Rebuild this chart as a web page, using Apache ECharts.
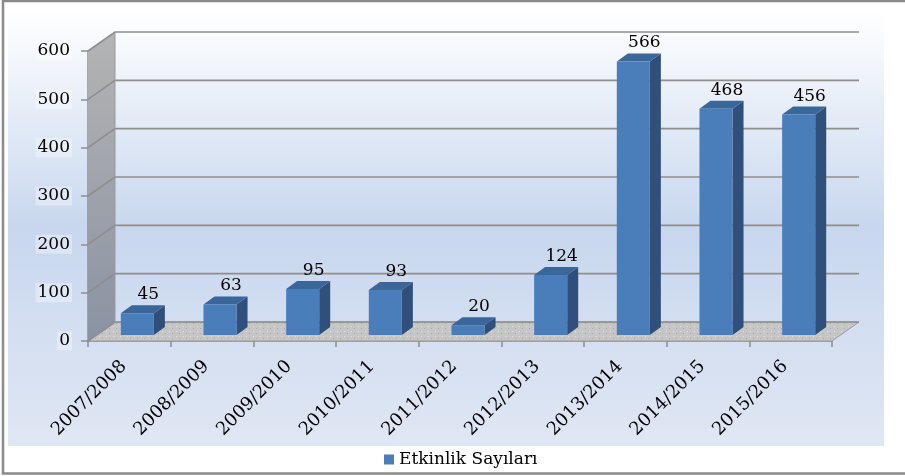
<!DOCTYPE html>
<html>
<head>
<meta charset="utf-8">
<script src="https://cdn.jsdelivr.net/npm/echarts@6/dist/echarts.min.js"></script>
<style>
  html, body { margin: 0; padding: 0; background: #fff; }
  #main { width: 905px; height: 476px; }
</style>
</head>
<body>
<div id="main"></div>
<script>
var seasons = ['2007/2008', '2008/2009', '2009/2010', '2010/2011', '2011/2012',
  '2012/2013', '2013/2014', '2014/2015', '2015/2016'];
var counts = [45, 63, 95, 93, 20, 124, 566, 468, 456];
var yTicks = [0, 100, 200, 300, 400, 500, 600];
var seriesName = 'Etkinlik Sayıları';

// depth of the fake 3d box, in px
var DX = 27, DY = -19;
var FONT = 'DejaVu Serif';

var chart = echarts.init(document.getElementById('main'));

// dotted floor pattern
var pat = document.createElement('canvas');
pat.width = 7; pat.height = 5;
var pctx = pat.getContext('2d');
pctx.fillStyle = '#c6c6c6';
pctx.fillRect(0, 0, 7, 5);
pctx.fillStyle = '#e2e2e2';
pctx.fillRect(1, 1, 1, 1);
pctx.fillStyle = '#a9a9a9';
pctx.fillRect(4, 3, 1, 1);

function renderWalls(params, api) {
  var cs = params.coordSys;
  var x = cs.x, xR = cs.x + cs.width;
  var yB = api.coord([0, yTicks[0]])[1];
  var yT = api.coord([0, yTicks[yTicks.length - 1]])[1];
  var children = [];
  children.push({
    type: 'polygon',
    shape: { points: [[x, yT], [x + DX, yT + DY], [x + DX, yB + DY], [x, yB]] },
    style: {
      fill: new echarts.graphic.LinearGradient(0, 0, 0, 1, [
        { offset: 0, color: '#b4b4b4' },
        { offset: 1, color: '#8a92a2' }
      ]),
      stroke: null
    }
  });
  children.push({
    type: 'polygon',
    shape: { points: [[x, yB], [x + DX, yB + DY], [xR + DX, yB + DY], [xR, yB]] },
    style: { fill: { image: pat, repeat: 'repeat' }, stroke: '#9a9a9a', lineWidth: 1 }
  });
  for (var i = 0; i < yTicks.length; i++) {
    var y = api.coord([0, yTicks[i]])[1];
    children.push({
      type: 'polyline',
      shape: { points: [[x, y], [x + DX, y + DY], [xR + DX, y + DY]] },
      style: { stroke: '#8e8e8e', lineWidth: 1.6, fill: null }
    });
  }
  children.push({
    type: 'line',
    shape: { x1: x + DX, y1: yT + DY, x2: x + DX, y2: yB + DY },
    style: { stroke: '#9a9a9a', lineWidth: 1 }
  });
  return { type: 'group', children: children };
}

function renderBar(params, api) {
  var i = api.value(0), v = api.value(1);
  var top = api.coord([i, v]);
  var base = api.coord([i, 0]);
  var band = api.size([1, 0])[0];
  var bw = band * 0.4;
  var sx = 8, sy = -6, ddx = 11, ddy = -8;
  var x0 = top[0] - bw / 2 + sx, x1 = x0 + bw;
  var yt = top[1] + sy, yb = base[1] + sy;
  return {
    type: 'group',
    children: [
      {
        type: 'polygon',
        shape: { points: [[x1, yt], [x1 + ddx, yt + ddy], [x1 + ddx, yb + ddy], [x1, yb]] },
        style: { fill: '#30507b' }
      },
      {
        type: 'polygon',
        shape: { points: [[x0, yt], [x0 + ddx, yt + ddy], [x1 + ddx, yt + ddy], [x1, yt]] },
        style: { fill: '#3b6699' }
      },
      {
        type: 'rect',
        shape: { x: x0, y: yt, width: bw, height: yb - yt },
        style: { fill: '#4a7ebb' }
      },
      {
        type: 'text',
        x: x0 + bw / 2 + ddx,
        y: yt + ddy - 2,
        style: {
          text: String(v), fill: '#000', font: '17px "' + FONT + '"',
          align: 'center', verticalAlign: 'bottom'
        }
      }
    ]
  };
}

var option = {
  animation: false,
  backgroundColor: '#ffffff',
  graphic: [
    {
      type: 'rect', z: -10,
      shape: { x: 8, y: 10, width: 876, height: 436 },
      style: {
        fill: new echarts.graphic.LinearGradient(0, 0, 0, 1, [
          { offset: 0, color: '#ffffff' },
          { offset: 0.5, color: '#c8d7ee' },
          { offset: 1, color: '#e0e7f4' }
        ])
      }
    },
    {
      type: 'rect', z: 100,
      shape: { x: 3, y: 1, width: 920, height: 472.5 },
      style: { fill: null, stroke: '#8a8a8a', lineWidth: 2.5 }
    }
  ],
  legend: {
    data: [seriesName],
    left: 384,
    top: 451,
    padding: 0,
    icon: 'rect',
    itemWidth: 10,
    itemHeight: 10,
    itemGap: 6,
    textStyle: { fontFamily: FONT, fontSize: 17, color: '#000' }
  },
  grid: { left: 88, right: 73, top: 51, bottom: 135 },
  xAxis: {
    type: 'category',
    data: seasons,
    axisLine: { lineStyle: { color: '#8e8e8e', width: 1.5 } },
    axisTick: { show: true, length: 6, lineStyle: { color: '#8e8e8e', width: 1.5 } },
    axisLabel: {
      interval: 0, rotate: 45, margin: 17, padding: [0, 8, 0, 0],
      fontFamily: FONT, fontSize: 18, color: '#000'
    }
  },
  yAxis: {
    type: 'value',
    min: 0, max: 600, interval: 100,
    axisLine: { show: true, lineStyle: { color: '#8e8e8e', width: 1.5 } },
    axisTick: { show: true, length: 7, lineStyle: { color: '#8e8e8e', width: 1.5 } },
    splitLine: { show: false },
    axisLabel: {
      margin: 16, fontFamily: FONT, fontSize: 17, color: '#000',
      backgroundColor: 'rgba(255,255,255,0.35)', padding: [1, 2]
    }
  },
  series: [
    {
      name: 'walls',
      type: 'custom',
      z: 1,
      silent: true,
      renderItem: renderWalls,
      data: [[0, 0]]
    },
    {
      name: seriesName,
      type: 'custom',
      z: 3,
      itemStyle: { color: '#4a7ebb' },
      renderItem: renderBar,
      encode: { x: 0, y: 1 },
      data: counts.map(function (c, i) { return [i, c]; })
    }
  ]
};

chart.setOption(option);
</script>
</body>
</html>
